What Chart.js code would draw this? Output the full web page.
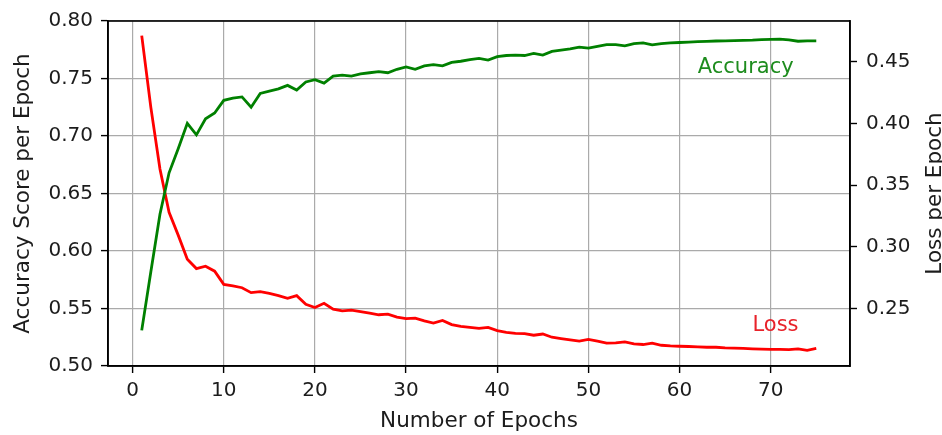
<!DOCTYPE html>
<html>
<head>
<meta charset="utf-8">
<script src="https://cdn.jsdelivr.net/npm/chart.js@4.4.0/dist/chart.umd.min.js"></script>
<style>
    html, body { margin: 0; padding: 0; background: #fff; }
</style>
</head>
<body>
<canvas id="myChart" width="942" height="435"></canvas>
<script>
const EPOCHS = [
    1, 2, 3, 4, 5, 6, 7, 8, 9, 10, 11, 12, 13, 14, 15, 16, 17, 18, 19, 20,
    21, 22, 23, 24, 25, 26, 27, 28, 29, 30, 31, 32, 33, 34, 35, 36, 37, 38, 39, 40,
    41, 42, 43, 44, 45, 46, 47, 48, 49, 50, 51, 52, 53, 54, 55, 56, 57, 58, 59, 60,
    61, 62, 63, 64, 65, 66, 67, 68, 69, 70, 71, 72, 73, 74, 75
];

const ACCURACY = [
    0.531, 0.582, 0.632, 0.668, 0.689, 0.711, 0.701, 0.715, 0.720, 0.731,
    0.733, 0.734, 0.725, 0.737, 0.739, 0.741, 0.744, 0.740, 0.747, 0.749,
    0.746, 0.752, 0.753, 0.752, 0.754, 0.755, 0.756, 0.755, 0.758, 0.760,
    0.758, 0.761, 0.762, 0.761, 0.764, 0.765, 0.7665, 0.7675, 0.766, 0.769,
    0.770, 0.7703, 0.770, 0.7718, 0.7703, 0.7735, 0.7746, 0.7758, 0.7772, 0.7765,
    0.778, 0.7795, 0.7795, 0.7784, 0.7804, 0.781, 0.7792, 0.7804, 0.781, 0.7813,
    0.7817, 0.782, 0.7823, 0.7826, 0.7828, 0.783, 0.7832, 0.7834, 0.7838, 0.7841,
    0.7842, 0.7836, 0.7824, 0.7828, 0.7828
];

const LOSS = [
    0.471, 0.413, 0.363, 0.328, 0.3095, 0.290, 0.2824, 0.2843, 0.2803, 0.2696,
    0.2683, 0.2669, 0.2629, 0.2637, 0.2624, 0.2605, 0.2583, 0.2605, 0.2535, 0.2509,
    0.2543, 0.2495, 0.2482, 0.2487, 0.2476, 0.2463, 0.245, 0.2455, 0.2431, 0.2418,
    0.2423, 0.2400, 0.2383, 0.2404, 0.237, 0.2356, 0.2348, 0.234, 0.2348, 0.2321,
    0.2308, 0.230, 0.2297, 0.2284, 0.2294, 0.2268, 0.2257, 0.2246, 0.2236, 0.225,
    0.2236, 0.222, 0.2222, 0.223, 0.2214, 0.2209, 0.222, 0.2203, 0.2198, 0.2195,
    0.2193, 0.219, 0.2187, 0.2187, 0.2182, 0.218, 0.2177, 0.2174, 0.2171, 0.2169,
    0.2169, 0.2168, 0.2174, 0.2162, 0.2177
];

const X_TICKS = [0, 10, 20, 30, 40, 50, 60, 70];
const ACC_TICKS = [0.50, 0.55, 0.60, 0.65, 0.70, 0.75, 0.80];
const LOSS_TICKS = [0.25, 0.30, 0.35, 0.40, 0.45];

const TEXT_COLOR = '#1c1c1c';
const GRID_COLOR = '#aaaaaa';

Chart.defaults.font.family = "'DejaVu Sans', sans-serif";
Chart.defaults.color = TEXT_COLOR;

const setTicks = (list) => (axis) => {
    axis.ticks = list.map((v) => ({ value: v }));
};

// frame, right-hand label and the two in-plot captions
const extras = {
    id: 'extras',
    afterDatasetsDraw(chart) {
        const ctx = chart.ctx;
        const area = chart.chartArea;
        const sx = chart.scales.x;

        ctx.save();
        ctx.strokeStyle = '#000';
        ctx.lineWidth = 1.6;
        ctx.strokeRect(area.left, area.top, area.right - area.left, area.bottom - area.top);

        ctx.font = "21px 'DejaVu Sans'";
        ctx.textAlign = 'left';
        ctx.textBaseline = 'alphabetic';
        ctx.fillStyle = '#1e8c1e';
        ctx.fillText('Accuracy', sx.getPixelForValue(62), chart.scales.y.getPixelForValue(0.755));
        ctx.fillStyle = '#e8222a';
        ctx.fillText('Loss', sx.getPixelForValue(68), chart.scales.y1.getPixelForValue(0.232));

        ctx.font = "21.5px 'DejaVu Sans'";
        ctx.fillStyle = TEXT_COLOR;
        ctx.translate(935, (area.top + area.bottom) / 2);
        ctx.rotate(-Math.PI / 2);
        ctx.textAlign = 'center';
        ctx.textBaseline = 'middle';
        ctx.fillText('Loss per Epoch', 0, 0);
        ctx.restore();
    }
};

var ctx = document.getElementById('myChart');
var myChart = new Chart(ctx, {
    type: 'line',
    data: {
        datasets: [{
            label: 'Accuracy',
            data: EPOCHS.map((e, i) => ({ x: e, y: ACCURACY[i] })),
            borderColor: '#008000',
            borderWidth: 2.8,
            yAxisID: 'y'
        }, {
            label: 'Loss',
            data: EPOCHS.map((e, i) => ({ x: e, y: LOSS[i] })),
            borderColor: '#ff0000',
            borderWidth: 2.8,
            yAxisID: 'y1'
        }]
    },
    options: {
        responsive: false,
        animation: false,
        devicePixelRatio: 1,
        pointRadius: 0,
        tension: 0,
        layout: { padding: { top: 17, left: 0, right: 0, bottom: 0 } },
        plugins: {
            legend: { display: false },
            tooltip: { enabled: false }
        },
        scales: {
            x: {
                type: 'linear',
                min: -2.7,
                max: 78.7,
                afterBuildTicks: setTicks(X_TICKS),
                afterFit: (scale) => { scale.height = 69; },
                ticks: {
                    font: { size: 20 },
                    padding: 6,
                    callback: (v) => v.toFixed(0)
                },
                grid: { color: GRID_COLOR, lineWidth: 1.2, tickLength: 7, tickColor: '#000', tickWidth: 1.4 },
                border: { color: '#000', width: 1.6 },
                title: {
                    display: true,
                    text: 'Number of Epochs',
                    font: { size: 21.5 },
                    padding: { top: 0, bottom: 1 }
                }
            },
            y: {
                position: 'left',
                min: 0.5,
                max: 0.8,
                afterBuildTicks: setTicks(ACC_TICKS),
                afterFit: (scale) => { scale.width = 108; },
                ticks: {
                    font: { size: 20 },
                    padding: 8,
                    callback: (v) => v.toFixed(2)
                },
                grid: { color: GRID_COLOR, lineWidth: 1.2, tickLength: 7, tickColor: '#000', tickWidth: 1.4 },
                border: { color: '#000', width: 1.6 },
                title: {
                    display: true,
                    text: 'Accuracy Score per Epoch',
                    font: { size: 21.5 },
                    padding: { top: 11, bottom: 0 }
                }
            },
            y1: {
                position: 'right',
                min: 0.2035,
                max: 0.4829,
                afterBuildTicks: setTicks(LOSS_TICKS),
                afterFit: (scale) => { scale.width = 92; },
                ticks: {
                    font: { size: 20 },
                    padding: 9,
                    callback: (v) => v.toFixed(2)
                },
                grid: { drawOnChartArea: false, tickLength: 7, tickColor: '#000', tickWidth: 1.4 },
                border: { color: '#000', width: 1.6 }
            }
        }
    },
    plugins: [extras]
});
</script>
</body>
</html>
